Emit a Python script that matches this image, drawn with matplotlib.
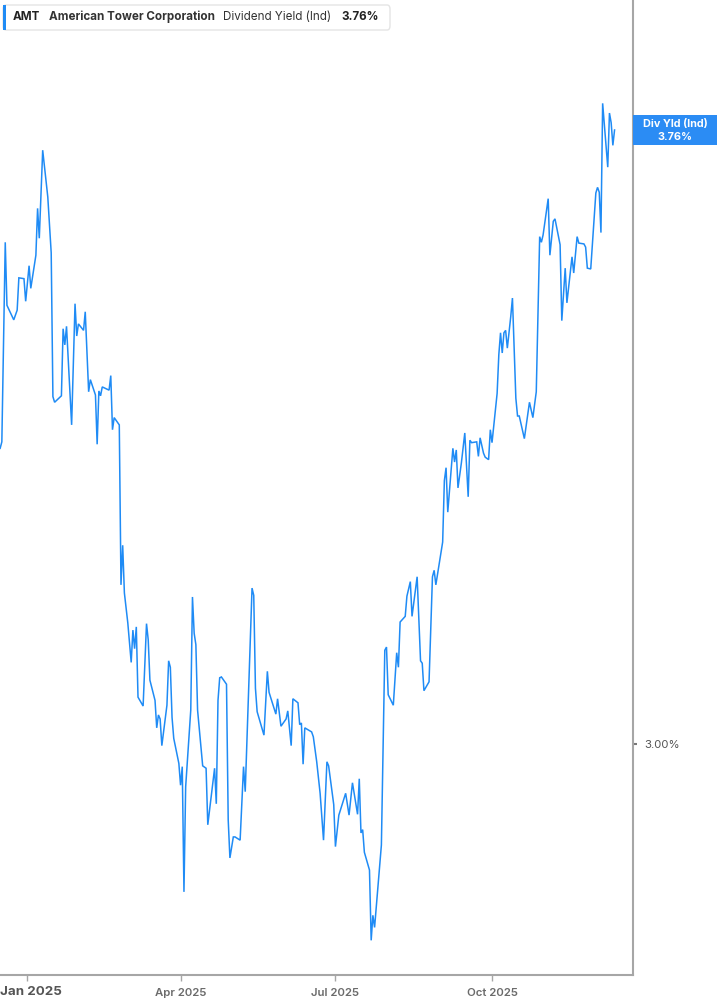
import matplotlib
matplotlib.use("Agg")
import matplotlib.pyplot as plt
from matplotlib.patches import FancyBboxPatch, Rectangle
import pandas as pd

plt.rcParams['font.family'] = ['Inter', 'DejaVu Sans']

# ---- data ----
dates = [
    "2024-12-16", "2024-12-17", "2024-12-19", "2024-12-20", "2024-12-24", "2024-12-26", "2024-12-27",
    "2024-12-30", "2024-12-31", "2025-01-02", "2025-01-03", "2025-01-06", "2025-01-07", "2025-01-08",
    "2025-01-10", "2025-01-13", "2025-01-15", "2025-01-16", "2025-01-17", "2025-01-21", "2025-01-22",
    "2025-01-23", "2025-01-24", "2025-01-27", "2025-01-29", "2025-01-30", "2025-01-31", "2025-02-03",
    "2025-02-04", "2025-02-06", "2025-02-07", "2025-02-10", "2025-02-11", "2025-02-12", "2025-02-13",
    "2025-02-14", "2025-02-18", "2025-02-19", "2025-02-20", "2025-02-21", "2025-02-24", "2025-02-25",
    "2025-02-26", "2025-02-27", "2025-03-01", "2025-03-03", "2025-03-04", "2025-03-05", "2025-03-06",
    "2025-03-07", "2025-03-10", "2025-03-12", "2025-03-13", "2025-03-14", "2025-03-17", "2025-03-18",
    "2025-03-19", "2025-03-20", "2025-03-21", "2025-03-24", "2025-03-25", "2025-03-26", "2025-03-27",
    "2025-03-28", "2025-03-31", "2025-04-01", "2025-04-02", "2025-04-03", "2025-04-04", "2025-04-07",
    "2025-04-08", "2025-04-09", "2025-04-10", "2025-04-11", "2025-04-14", "2025-04-16", "2025-04-17",
    "2025-04-21", "2025-04-22", "2025-04-23", "2025-04-24", "2025-04-25", "2025-04-28", "2025-04-29",
    "2025-04-30", "2025-05-02", "2025-05-03", "2025-05-06", "2025-05-08", "2025-05-09", "2025-05-13",
    "2025-05-14", "2025-05-15", "2025-05-16", "2025-05-20", "2025-05-22", "2025-05-23", "2025-05-27",
    "2025-05-28", "2025-05-30", "2025-06-02", "2025-06-03", "2025-06-05", "2025-06-06", "2025-06-09",
    "2025-06-10", "2025-06-11", "2025-06-12", "2025-06-13", "2025-06-17", "2025-06-18", "2025-06-20",
    "2025-06-22", "2025-06-24", "2025-06-26", "2025-06-27", "2025-06-30", "2025-07-01", "2025-07-03",
    "2025-07-07", "2025-07-09", "2025-07-11", "2025-07-14", "2025-07-15", "2025-07-16", "2025-07-17",
    "2025-07-18", "2025-07-21", "2025-07-22", "2025-07-23", "2025-07-24", "2025-07-28", "2025-07-30",
    "2025-07-31", "2025-08-01", "2025-08-04", "2025-08-06", "2025-08-07", "2025-08-08", "2025-08-11",
    "2025-08-12", "2025-08-14", "2025-08-15", "2025-08-18", "2025-08-20", "2025-08-21", "2025-08-22",
    "2025-08-25", "2025-08-27", "2025-08-28", "2025-08-29", "2025-09-02", "2025-09-03", "2025-09-04",
    "2025-09-05", "2025-09-08", "2025-09-09", "2025-09-10", "2025-09-11", "2025-09-13", "2025-09-15",
    "2025-09-17", "2025-09-18", "2025-09-19", "2025-09-22", "2025-09-23", "2025-09-24", "2025-09-26",
    "2025-09-27", "2025-09-29", "2025-09-30", "2025-10-01", "2025-10-03", "2025-10-04", "2025-10-05",
    "2025-10-06", "2025-10-07", "2025-10-08", "2025-10-09", "2025-10-10", "2025-10-12", "2025-10-13",
    "2025-10-15", "2025-10-16", "2025-10-17", "2025-10-20", "2025-10-23", "2025-10-25", "2025-10-27",
    "2025-10-29", "2025-10-30", "2025-10-31", "2025-11-03", "2025-11-04", "2025-11-06", "2025-11-07",
    "2025-11-10", "2025-11-11", "2025-11-13", "2025-11-14", "2025-11-17", "2025-11-18", "2025-11-20",
    "2025-11-21", "2025-11-24", "2025-11-25", "2025-11-26", "2025-11-28", "2025-12-01", "2025-12-02",
    "2025-12-03", "2025-12-04", "2025-12-05", "2025-12-08", "2025-12-09", "2025-12-10", "2025-12-11",
    "2025-12-12",
]
yield_pct = [
    3.366, 3.374, 3.621, 3.543, 3.525, 3.537, 3.577, 3.576, 3.548, 3.592, 3.564, 3.605, 3.663, 3.626,
    3.735, 3.677, 3.608, 3.430, 3.423, 3.431, 3.514, 3.494, 3.517, 3.395, 3.545, 3.505, 3.520, 3.512,
    3.535, 3.436, 3.451, 3.432, 3.371, 3.437, 3.431, 3.442, 3.438, 3.456, 3.389, 3.404, 3.395, 3.197,
    3.246, 3.187, 3.150, 3.101, 3.141, 3.118, 3.145, 3.058, 3.047, 3.149, 3.129, 3.079, 3.054, 3.020,
    3.036, 3.031, 2.998, 3.048, 3.103, 3.095, 3.033, 3.007, 2.976, 2.949, 2.972, 2.817, 2.947, 3.042,
    3.182, 3.137, 3.123, 3.042, 2.973, 2.970, 2.900, 2.970, 2.926, 3.054, 3.082, 3.083, 3.074, 2.906,
    2.859, 2.885, 2.885, 2.881, 2.972, 2.941, 3.193, 3.184, 3.069, 3.040, 3.011, 3.090, 3.064, 3.037,
    3.056, 3.022, 3.031, 3.041, 2.998, 3.056, 3.051, 3.024, 3.026, 2.975, 3.020, 3.015, 3.009, 2.978,
    2.939, 2.881, 2.978, 2.973, 2.925, 2.873, 2.912, 2.939, 2.912, 2.952, 2.913, 2.957, 2.890, 2.894,
    2.866, 2.844, 2.757, 2.788, 2.773, 2.875, 3.116, 3.120, 3.061, 3.048, 3.113, 3.095, 3.151, 3.158,
    3.183, 3.201, 3.158, 3.207, 3.103, 3.100, 3.066, 3.077, 3.207, 3.215, 3.197, 3.250, 3.326, 3.342,
    3.287, 3.366, 3.349, 3.364, 3.317, 3.348, 3.385, 3.306, 3.376, 3.373, 3.374, 3.356, 3.379, 3.360,
    3.355, 3.352, 3.389, 3.373, 3.413, 3.434, 3.482, 3.509, 3.484, 3.509, 3.512, 3.490, 3.529, 3.552,
    3.428, 3.406, 3.406, 3.378, 3.423, 3.404, 3.436, 3.628, 3.621, 3.630, 3.675, 3.605, 3.647, 3.650,
    3.618, 3.524, 3.589, 3.546, 3.603, 3.583, 3.628, 3.620, 3.619, 3.615, 3.589, 3.588, 3.682, 3.689,
    3.683, 3.633, 3.793, 3.714, 3.781, 3.769, 3.741, 3.760,
]
tick_dates = ["2025-01-01", "2025-04-01", "2025-07-01", "2025-10-01"]
tick_labels = ["Jan 2025", "Apr 2025", "Jul 2025", "Oct 2025"]
y_ticks = [3.00]
y_tick_labels = ["3.00%"]
ticker = "AMT"
company = "American Tower Corporation"
metric = "Dividend Yield (Ind)"
last_label = "Div Yld (Ind)"
last_value = yield_pct[-1]

# ---- figure ----
W, H = 717, 1005
fig = plt.figure(figsize=(W / 100, H / 100), dpi=100)
fig.patch.set_facecolor("white")

def fx(x):
    return x / W

def fy(y):
    return 1 - y / H

ax_left, ax_right, ax_top, ax_bottom = 0, 633, 0, 975
ax = fig.add_axes([fx(ax_left), fy(ax_bottom), (ax_right - ax_left) / W, (ax_bottom - ax_top) / H])
ax.set_facecolor("white")

x = pd.to_datetime(dates)
line_color = "#1f8bf5"
ax.plot(x, yield_pct, color=line_color, lw=1.1, solid_joinstyle="miter")

ax.set_xlim(pd.Timestamp("2024-12-15 22:00"), pd.Timestamp("2025-12-22 20:00"))
ax.set_ylim(2.7141, 3.9209)

for s in ["left", "top"]:
    ax.spines[s].set_visible(False)
for s in ["right", "bottom"]:
    ax.spines[s].set_color("#a6a6a6")
    ax.spines[s].set_linewidth(1.5)

ax.set_xticks(pd.to_datetime(tick_dates))
ax.set_xticklabels([""] + tick_labels[1:], fontsize=8.2, color="#6b6b6b", fontweight="semibold")
ax.tick_params(axis="x", direction="out", length=4, width=1, color="#a6a6a6", pad=5)

ax.yaxis.tick_right()
ax.set_yticks(y_ticks)
ax.set_yticklabels(y_tick_labels, fontsize=8.2, color="#555555")
ax.tick_params(axis="y", direction="out", length=3, width=1.5, color="#777777", pad=5)
ax.grid(False)

# Jan 2025 label, left aligned at the figure edge
fig.text(fx(0), fy(992), tick_labels[0], fontsize=9.6, fontweight="bold", color="#555555",
         ha="left", va="center")

# last-value badge on the right
badge = Rectangle((fx(633), fy(145)), (717 - 633) / W, 30 / H, transform=fig.transFigure,
                  facecolor="#2b8cf4", edgecolor="none")
fig.add_artist(badge)
fig.text(fx(675), fy(124.5), last_label, fontsize=7.8, fontweight="bold", color="white",
         ha="center", va="center")
fig.text(fx(675), fy(136.5), f"{last_value:.2f}%", fontsize=7.8, fontweight="bold", color="white",
         ha="center", va="center")

# header box
hdr = FancyBboxPatch((fx(3), fy(30)), (390 - 3) / W, 25 / H, transform=fig.transFigure,
                     boxstyle="round,pad=0,rounding_size=0.004", facecolor="white",
                     edgecolor="#e4e4e4", linewidth=1.0)
fig.add_artist(hdr)
bar = Rectangle((fx(3), fy(30)), 3 / W, 25 / H, transform=fig.transFigure,
                facecolor="#1f8bf5", edgecolor="none")
fig.add_artist(bar)
hy = fy(17)
hfs = 8.4
fig.text(fx(13), hy, ticker, fontsize=hfs, fontweight="bold", color="#222222", ha="left", va="center")
fig.text(fx(49), hy, company, fontsize=hfs, fontweight="bold", color="#333333", ha="left", va="center")
fig.text(fx(223), hy, metric, fontsize=hfs, color="#333333", ha="left", va="center")
fig.text(fx(341), hy, f"{last_value:.2f}%", fontsize=hfs, fontweight="bold", color="#222222",
         ha="left", va="center")

fig.savefig("out.png", dpi=100, facecolor="white")
